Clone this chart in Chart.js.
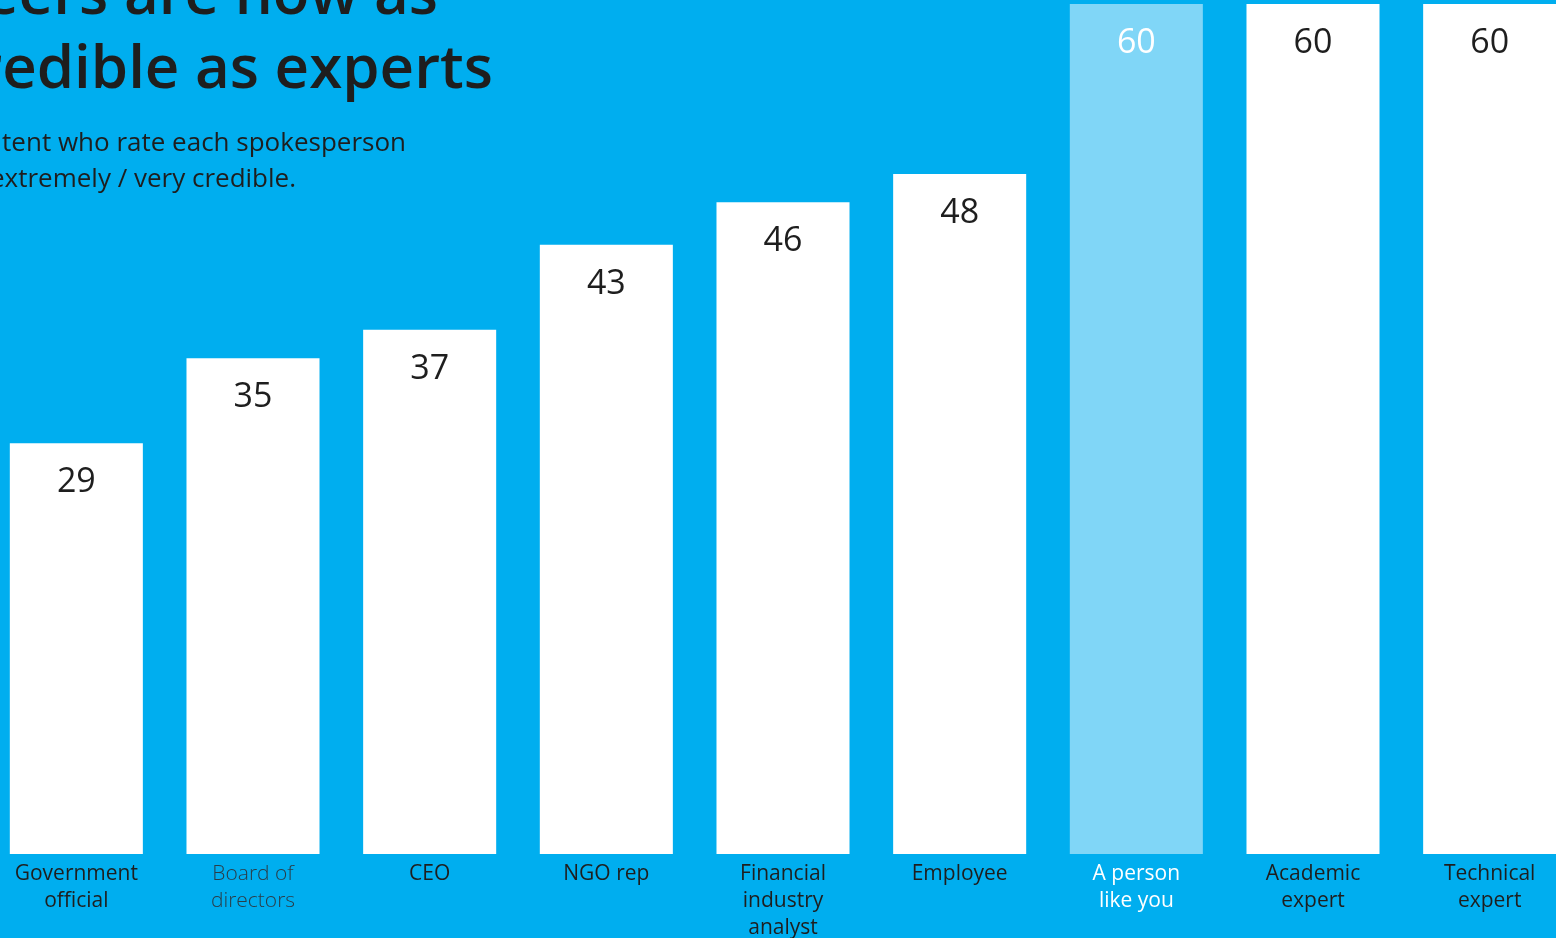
<!DOCTYPE html>
<html>
<head>
<meta charset="utf-8">
<script src="https://cdn.jsdelivr.net/npm/chart.js@4.4.1/dist/chart.umd.min.js"></script>
<style>
  html, body { margin:0; padding:0; width:1556px; height:938px; overflow:hidden; background:#00aeef; font-family:"Open Sans", sans-serif; }
  .line { position:absolute; white-space:nowrap; color:#1e1e1e; text-align:right; }
  .title { font-size:60px; font-weight:600; line-height:1; }
  .sub { font-size:26px; font-weight:400; line-height:1; }
  #c { position:absolute; left:-12px; top:0; }
</style>
</head>
<body>
<canvas id="c" width="1590" height="938"></canvas>
<div class="line title" style="right:1118px; top:-39px">Peers are now as</div>
<div class="line title" style="right:1063px; top:35px">credible as experts</div>
<div class="line sub" style="right:1150px; top:128px">tent who rate each spokesperson</div>
<div class="line sub" style="right:1260px; top:164px">as extremely / very credible.</div>
<script>
// valores
const labels = [
  ["Government", "official"],
  ["Board of", "directors"],
  ["CEO"],
  ["NGO rep"],
  ["Financial", "industry", "analyst"],
  ["Employee"],
  ["A person", "like you"],
  ["Academic", "expert"],
  ["Technical", "expert"]
];
const values = [29, 35, 37, 43, 46, 48, 60, 60, 60];
const highlight = 6; // "A person like you"

const WHITE = "#ffffff";
const LIGHT = "#80d6f7";
const DARK = "#1e1e1e";

// etiquetas de valor dentro de cada barra
const valueLabels = {
  id: "valueLabels",
  afterDatasetsDraw(chart){
    const ctx = chart.ctx;
    const meta = chart.getDatasetMeta(0);
    ctx.save();
    ctx.font = '34px "Open Sans"';
    ctx.textAlign = "center";
    ctx.textBaseline = "middle";
    meta.data.forEach((bar, i)=>{
      ctx.fillStyle = i === highlight ? WHITE : DARK;
      ctx.fillText(String(values[i]), bar.x, bar.y + 39);
    });
    ctx.restore();
  }
};

new Chart(document.getElementById("c"), {
  type: "bar",
  data: {
    labels,
    datasets: [{
      data: values,
      backgroundColor: values.map((_, i)=> i === highlight ? LIGHT : WHITE),
      borderWidth: 0,
      barPercentage: 0.753,
      categoryPercentage: 1
    }]
  },
  options: {
    responsive: false,
    animation: false,
    events: [],
    layout: { padding: { top: 4, left: 0, right: 0, bottom: 0 } },
    plugins: { legend: { display: false }, tooltip: { enabled: false } },
    scales: {
      y: { display: false, min: 0, max: 60 },
      x: {
        grid: { display: false, drawTicks: false },
        border: { display: false },
        afterFit(scale){ scale.height = 84; },
        ticks: {
          autoSkip: false,
          maxRotation: 0,
          padding: 7,
          color: (c)=> c.index === highlight ? WHITE : (c.index === 1 ? "#2a3d48" : DARK),
          font: (c)=> ({ family: "Open Sans", size: 21, weight: c.index === 1 ? "300" : "400", lineHeight: 1.27 })
        }
      }
    }
  },
  plugins: [valueLabels]
});
</script>
</body>
</html>
